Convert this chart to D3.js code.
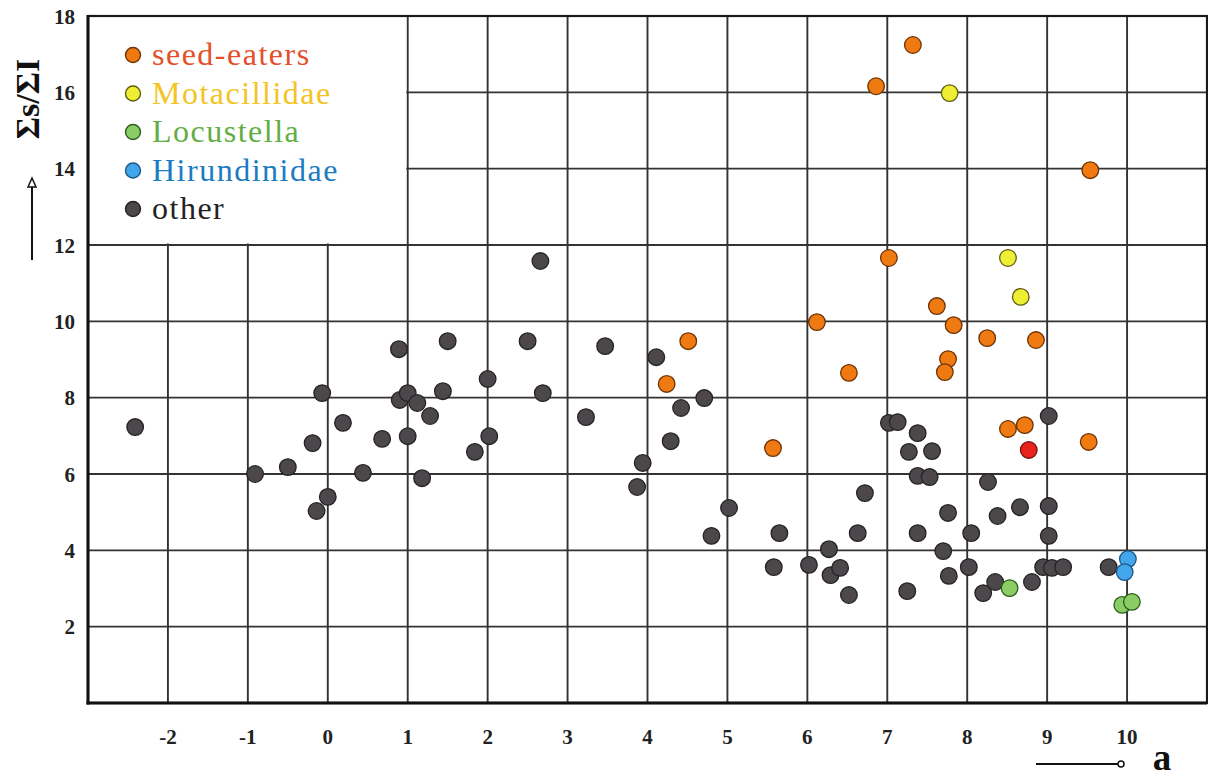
<!DOCTYPE html>
<html>
<head>
<meta charset="utf-8">
<script src="https://cdn.jsdelivr.net/npm/d3@7"></script>
<style>
  html, body { margin: 0; padding: 0; background: #fff; }
  svg { display: block; }
  text { font-family: "Liberation Serif", "Times New Roman", "DejaVu Serif", serif; }
</style>
</head>
<body>
<svg id="chart"></svg>
<script>
// values: [a, Σs/ΣI]
const seedEaters = [
  [7.32, 17.24], [6.86, 16.16], [9.54, 13.96], [7.02, 11.66], [6.12, 9.98],
  [7.62, 10.40], [7.83, 9.90], [8.25, 9.56], [8.86, 9.51], [7.76, 9.01],
  [7.72, 8.67], [6.52, 8.65], [4.51, 9.48], [4.24, 8.36], [5.57, 6.68],
  [8.51, 7.18], [8.72, 7.28], [9.52, 6.84]
];
const seedEatersRed = [[8.77, 6.63]];
const motacillidae = [[7.78, 15.98], [8.51, 11.66], [8.67, 10.64]];
const locustella = [[8.53, 3.01], [9.94, 2.57], [10.06, 2.65]];
const hirundinidae = [[10.01, 3.77], [9.97, 3.43]];
const other = [
  [-2.41, 7.23], [-0.91, 6.00], [-0.50, 6.18], [-0.19, 6.81], [-0.14, 5.03],
  [0.00, 5.40], [-0.07, 8.12], [0.19, 7.34], [0.44, 6.03], [0.68, 6.92],
  [0.89, 9.27], [0.90, 7.94], [1.00, 8.12], [1.00, 6.99], [1.12, 7.86],
  [1.18, 5.89], [1.28, 7.52], [1.44, 8.17], [1.50, 9.48], [1.84, 6.58],
  [2.00, 8.49], [2.02, 6.99], [2.50, 9.48], [2.66, 11.58], [2.69, 8.12],
  [3.23, 7.49], [3.47, 9.35], [3.87, 5.66], [3.94, 6.29], [4.11, 9.06],
  [4.29, 6.86], [4.42, 7.73], [4.71, 7.99], [4.80, 4.38], [5.02, 5.11],
  [5.58, 3.56], [5.65, 4.45], [6.02, 3.62], [6.27, 4.03], [6.29, 3.35],
  [6.41, 3.54], [6.52, 2.83], [6.63, 4.45], [6.72, 5.50], [7.02, 7.34],
  [7.13, 7.36], [7.27, 6.58], [7.38, 7.07], [7.25, 2.93], [7.38, 5.95],
  [7.53, 5.92], [7.56, 6.60], [7.38, 4.45], [7.76, 4.98], [7.70, 3.98],
  [7.77, 3.33], [8.02, 3.56], [8.05, 4.45], [8.20, 2.88], [8.26, 5.79],
  [8.38, 4.90], [8.35, 3.17], [8.66, 5.13], [8.81, 3.17], [8.95, 3.56],
  [9.02, 7.52], [9.02, 5.16], [9.02, 4.38], [9.06, 3.54], [9.20, 3.56],
  [9.77, 3.56]
];

const xTickLabels = [-2, -1, 0, 1, 2, 3, 4, 5, 6, 7, 8, 9, 10];
const yTickLabels = [2, 4, 6, 8, 10, 12, 14, 16, 18];
const legendNames = ['seed-eaters', 'Motacillidae', 'Locustella', 'Hirundinidae', 'other'];

const width = 1208, height = 778;
const plot = { left: 88, right: 1207, top: 16, bottom: 703 };

const svg = d3.select('#chart')
  .attr('width', width)
  .attr('height', height);

const x = d3.scaleLinear().domain([-3, 11]).range([plot.left, plot.right]);
const y = d3.scaleLinear().domain([0, 18]).range([plot.bottom, plot.top]);

const styles = {
  'seed-eaters':  { fill: '#f07a12', stroke: '#6e3204', text: '#e4502a' },
  'seed-red':     { fill: '#e8231c', stroke: '#761010' },
  'Motacillidae': { fill: '#eeee34', stroke: '#5e5e10', text: '#f2c424' },
  'Locustella':   { fill: '#8ccc66', stroke: '#2a5e18', text: '#62ae44' },
  'Hirundinidae': { fill: '#42a6ea', stroke: '#1a5688', text: '#1c7cc2' },
  'other':        { fill: '#4c474b', stroke: '#252224', text: '#222' }
};

// grid
const grid = svg.append('g')
  .attr('stroke', '#333')
  .attr('stroke-width', 1.9);

grid.selectAll('.vgrid')
  .data(xTickLabels)
  .enter()
  .append('line')
    .attr('x1', d => x(d)).attr('x2', d => x(d))
    .attr('y1', plot.top).attr('y2', plot.bottom);

grid.selectAll('.hgrid')
  .data(yTickLabels.filter(d => d < 18))
  .enter()
  .append('line')
    .attr('x1', plot.left).attr('x2', plot.right)
    .attr('y1', d => y(d)).attr('y2', d => y(d));

// white legend area covers the top-left cells of the grid
svg.append('rect')
  .attr('x', x(-3))
  .attr('y', y(18))
  .attr('width', x(1) - x(-3) - 1.5)
  .attr('height', y(12) - y(18) - 1.5)
  .attr('fill', '#fff');

// frame
svg.append('rect')
  .attr('x', plot.left).attr('y', plot.top)
  .attr('width', plot.right - plot.left)
  .attr('height', plot.bottom - plot.top)
  .attr('fill', 'none')
  .attr('stroke', '#1a1a1a')
  .attr('stroke-width', 2.2);

svg.append('line')
  .attr('x1', plot.left).attr('x2', plot.left)
  .attr('y1', plot.top - 1).attr('y2', plot.bottom + 1.5)
  .attr('stroke', '#111').attr('stroke-width', 3);
svg.append('line')
  .attr('x1', plot.left - 1.5).attr('x2', plot.right)
  .attr('y1', plot.bottom).attr('y2', plot.bottom)
  .attr('stroke', '#111').attr('stroke-width', 3);

// tick labels
svg.append('g')
  .selectAll('text')
  .data(xTickLabels)
  .enter()
  .append('text')
    .attr('x', d => x(d))
    .attr('y', 744)
    .attr('text-anchor', 'middle')
    .attr('font-size', 21)
    .attr('font-weight', 'bold')
    .attr('fill', '#222')
    .text(d => d);

svg.append('g')
  .selectAll('text')
  .data(yTickLabels)
  .enter()
  .append('text')
    .attr('x', 75)
    .attr('y', d => y(d))
    .attr('dy', '0.36em')
    .attr('text-anchor', 'end')
    .attr('font-size', 21)
    .attr('font-weight', 'bold')
    .attr('fill', '#222')
    .text(d => d);

// axis titles with arrows
svg.append('text')
  .attr('transform', 'translate(39,99) rotate(-90)')
  .attr('text-anchor', 'middle')
  .attr('font-size', 34)
  .attr('font-weight', 'bold')
  .attr('fill', '#111')
  .text('Σs/ΣI');

svg.append('line')
  .attr('x1', 32).attr('x2', 32)
  .attr('y1', 260).attr('y2', 184)
  .attr('stroke', '#111').attr('stroke-width', 2);
svg.append('path')
  .attr('d', 'M28,187 L32,178 L36,187 Z')
  .attr('fill', '#fff').attr('stroke', '#111').attr('stroke-width', 1.5);

svg.append('text')
  .attr('x', 1162)
  .attr('y', 770)
  .attr('text-anchor', 'middle')
  .attr('font-size', 37)
  .attr('font-weight', 'bold')
  .attr('fill', '#111')
  .text('a');

svg.append('line')
  .attr('x1', 1036).attr('x2', 1118)
  .attr('y1', 764).attr('y2', 764)
  .attr('stroke', '#111').attr('stroke-width', 2);
svg.append('circle')
  .attr('cx', 1121).attr('cy', 764).attr('r', 3)
  .attr('fill', '#fff').attr('stroke', '#111').attr('stroke-width', 1.5);

// points
const layers = [
  { data: other, style: styles['other'] },
  { data: seedEaters, style: styles['seed-eaters'] },
  { data: seedEatersRed, style: styles['seed-red'] },
  { data: motacillidae, style: styles['Motacillidae'] },
  { data: locustella, style: styles['Locustella'] },
  { data: hirundinidae, style: styles['Hirundinidae'] }
];

const points = svg.append('g');
layers.forEach(layer => {
  points.append('g')
    .selectAll('circle')
    .data(layer.data)
    .enter()
    .append('circle')
      .attr('cx', d => x(d[0]))
      .attr('cy', d => y(d[1]))
      .attr('r', 8.3)
      .attr('fill', layer.style.fill)
      .attr('stroke', layer.style.stroke)
      .attr('stroke-width', 1.3);
});

// legend
const legend = svg.append('g')
  .selectAll('g')
  .data(legendNames)
  .enter()
  .append('g')
    .attr('transform', (d, i) => `translate(133,${55 + i * 38.5})`);

legend.append('circle')
  .attr('r', 7.5)
  .attr('fill', d => styles[d].fill)
  .attr('stroke', d => styles[d].stroke)
  .attr('stroke-width', 1.4);

legend.append('text')
  .attr('x', 19)
  .attr('y', 10)
  .attr('font-size', 32)
  .attr('letter-spacing', 1.5)
  .attr('fill', d => styles[d].text)
  .text(d => d);
</script>
</body>
</html>
